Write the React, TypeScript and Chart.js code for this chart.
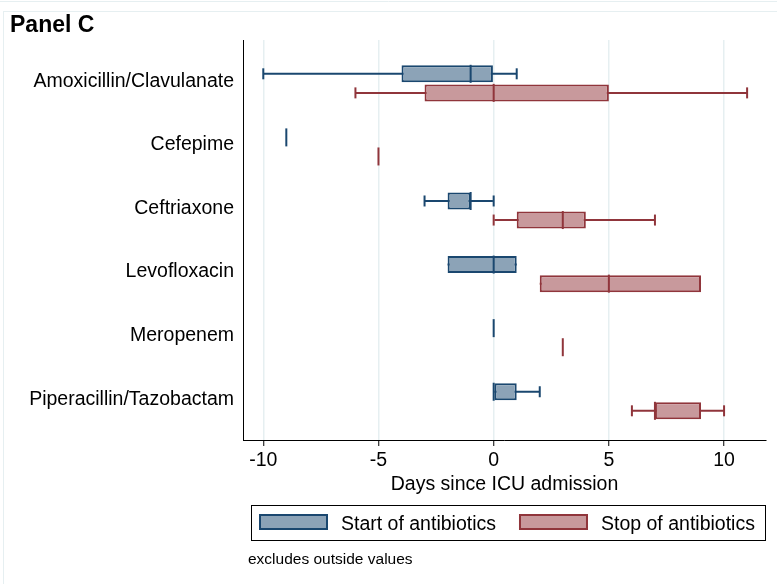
import React, { useEffect, useRef } from "react";
import { Chart, registerables } from "chart.js";

Chart.register(...registerables);

// ---- data (days since ICU admission) ----
const categories = [
  "Amoxicillin/Clavulanate",
  "Cefepime",
  "Ceftriaxone",
  "Levofloxacin",
  "Meropenem",
  "Piperacillin/Tazobactam",
];
const seriesNames = ["Start of antibiotics", "Stop of antibiotics"];

const startMin = [-10, -9, -3, -2, 0, 0];
const startQ1 = [-4, -9, -2, -2, 0, 0];
const startMedian = [-1, -9, -1, 0, 0, 0];
const startQ3 = [0, -9, -1, 1, 0, 1];
const startMax = [1, -9, 0, 1, 0, 2];

const stopMin = [-6, -5, 0, 2, 3, 6];
const stopQ1 = [-3, -5, 1, 2, 3, 7];
const stopMedian = [0, -5, 3, 5, 3, 7];
const stopQ3 = [5, -5, 4, 9, 3, 9];
const stopMax = [11, -5, 7, 9, 3, 10];

const xTicks = [-10, -5, 0, 5, 10];
const xTitle = "Days since ICU admission";
const panelTitle = "Panel C";
const noteText = "excludes outside values";

// ---- styles ----
const FONT = '"Liberation Sans", Arial, Helvetica, sans-serif';
const NAVY = "#1a476f";
const NAVY_FILL = "#8ca3b7";
const MAROON = "#90353b";
const MAROON_FILL = "#c8999c";
const GRID = "#e6eff1";

const series = [
  { name: seriesNames[0], min: startMin, q1: startQ1, med: startMedian, q3: startQ3, max: startMax, line: NAVY, fill: NAVY_FILL, offset: -0.15 },
  { name: seriesNames[1], min: stopMin, q1: stopQ1, med: stopMedian, q3: stopQ3, max: stopMax, line: MAROON, fill: MAROON_FILL, offset: 0.15 },
];

function buildDatasets() {
  const ds: any[] = [];
  series.forEach((s) => {
    const pos = (i: number) => i + s.offset;
    ds.push({
      type: "bar",
      label: s.name + " whiskers",
      indexAxis: "y",
      data: categories.map((_, i) => ({ x: [s.min[i], s.max[i]], y: pos(i) })),
      backgroundColor: s.line,
      borderWidth: 0,
      barThickness: 2,
      grouped: false,
      inflateAmount: 0,
      order: 4,
    });
    ds.push({
      type: "bar",
      label: s.name,
      indexAxis: "y",
      data: categories.map((_, i) => ({ x: [s.q1[i], s.q3[i]], y: pos(i) })),
      backgroundColor: s.fill,
      borderColor: s.line,
      borderWidth: 2,
      borderSkipped: false,
      barThickness: 17,
      grouped: false,
      inflateAmount: 0,
      order: 3,
    });
    const caps: any[] = [];
    categories.forEach((_, i) => {
      if (s.min[i] < s.q1[i]) caps.push({ x: s.min[i], y: pos(i) });
      if (s.max[i] > s.q3[i]) caps.push({ x: s.max[i], y: pos(i) });
    });
    ds.push({
      type: "scatter",
      label: s.name + " caps",
      data: caps,
      pointStyle: "line",
      pointRotation: 90,
      pointRadius: 5.5,
      pointHoverRadius: 5.5,
      pointBorderWidth: 2,
      pointBorderColor: s.line,
      borderColor: s.line,
      showLine: false,
      order: 2,
    });
    ds.push({
      type: "scatter",
      label: s.name + " median",
      data: categories.map((_, i) => ({ x: s.med[i], y: pos(i) })),
      pointStyle: "line",
      pointRotation: 90,
      pointRadius: 9,
      pointHoverRadius: 9,
      pointBorderWidth: 2,
      pointBorderColor: s.line,
      borderColor: s.line,
      showLine: false,
      order: 1,
    });
  });
  return ds;
}

const framePlugin = {
  id: "frame",
  beforeDraw(chart: any) {
    const { ctx, width, height } = chart;
    ctx.save();
    ctx.fillStyle = "#ffffff";
    ctx.fillRect(0, 0, width, height);
    ctx.strokeStyle = GRID;
    ctx.lineWidth = 1;
    ctx.beginPath();
    ctx.moveTo(0, 1.5);
    ctx.lineTo(width, 1.5);
    ctx.stroke();
    ctx.strokeRect(3.5, 11.5, width + 10, height + 10);
    ctx.restore();
  },
};

const legendPlugin = {
  id: "boxLegend",
  afterDraw(chart: any) {
    const { ctx, chartArea } = chart;
    const xScale = chart.scales.x;
    const top = xScale.bottom + 5;
    const left = chartArea.left + 8;
    const right = chartArea.right - 1;
    const h = 35;
    ctx.save();
    ctx.strokeStyle = "#000";
    ctx.lineWidth = 1;
    ctx.strokeRect(Math.round(left) + 0.5, Math.round(top) + 0.5, Math.round(right - left), h);
    ctx.font = `19.5px ${FONT}`;
    ctx.textBaseline = "alphabetic";
    ctx.textAlign = "left";
    let x = left + 8;
    series.forEach((s) => {
      const sy = top + 9;
      ctx.fillStyle = s.fill;
      ctx.fillRect(x, sy, 69, 16);
      ctx.strokeStyle = s.line;
      ctx.lineWidth = 2;
      ctx.strokeRect(x + 1, sy + 1, 67, 14);
      const tx = x + 69 + 13;
      ctx.fillStyle = "#000";
      ctx.fillText(s.name, tx, top + 24.5);
      x = tx + ctx.measureText(s.name).width + 23;
    });
    ctx.font = `15.5px ${FONT}`;
    ctx.fillText(noteText, chartArea.left + 5, top + 59);
    ctx.restore();
  },
};

export default function App() {
  const ref = useRef<HTMLCanvasElement>(null);
  useEffect(() => {
    const canvas = ref.current;
    if (!canvas) return;
    const chart = new Chart(canvas, {
      type: "bar",
      data: { datasets: buildDatasets() },
      plugins: [framePlugin, legendPlugin],
      options: {
        indexAxis: "y",
        responsive: false,
        maintainAspectRatio: false,
        devicePixelRatio: 1,
        animation: false,
        events: [],
        layout: { padding: { left: 10, right: 10, top: 0, bottom: 84 } },
        plugins: {
          legend: { display: false },
          tooltip: { enabled: false },
          title: {
            display: true,
            text: panelTitle,
            align: "start",
            color: "#000",
            font: { family: FONT, size: 23, weight: "bold" },
            padding: { top: 11.5, bottom: 1 },
          },
        },
        scales: {
          x: {
            type: "linear",
            position: "bottom",
            min: -10.88,
            max: 11.82,
            afterBuildTicks: (scale: any) => {
              scale.ticks = xTicks.map((v) => ({ value: v }));
            },
            afterFit: (scale: any) => {
              scale.height = 60;
            },
            ticks: {
              autoSkip: false,
              maxRotation: 0,
              padding: 3,
              color: "#000",
              font: { family: FONT, size: 19.5 },
              callback: (v: any) => String(v).replace("\u2212", "-"),
            },
            grid: {
              display: true,
              color: GRID,
              lineWidth: 1.5,
              drawTicks: true,
              tickLength: 6,
              tickColor: "#000",
              tickWidth: 1,
              offset: false,
            },
            border: { display: true, color: "#000", width: 1 },
            title: {
              display: true,
              text: xTitle,
              color: "#000",
              font: { family: FONT, size: 19.5 },
              padding: { top: 0, bottom: 4 },
            },
          },
          y: {
            type: "linear",
            position: "left",
            reverse: true,
            offset: false,
            min: -0.68,
            max: 5.609,
            afterBuildTicks: (scale: any) => {
              scale.ticks = categories.map((_, i) => ({ value: i }));
            },
            afterFit: (scale: any) => {
              scale.width = 233;
            },
            ticks: {
              autoSkip: false,
              padding: 9,
              labelOffset: -2,
              color: "#000",
              font: { family: FONT, size: 19.5 },
              callback: (v: any) => categories[Math.round(Number(v))],
            },
            grid: { display: false, drawTicks: false, offset: false },
            border: { display: true, color: "#000", width: 1 },
          },
        },
      } as any,
    } as any);
    return () => chart.destroy();
  }, []);
  return (
    <div style={{ position: "fixed", left: 0, top: 0, width: 777, height: 584, background: "#fff" }}>
      <canvas ref={ref} width={777} height={584} style={{ display: "block", width: 777, height: 584 }} />
    </div>
  );
}
